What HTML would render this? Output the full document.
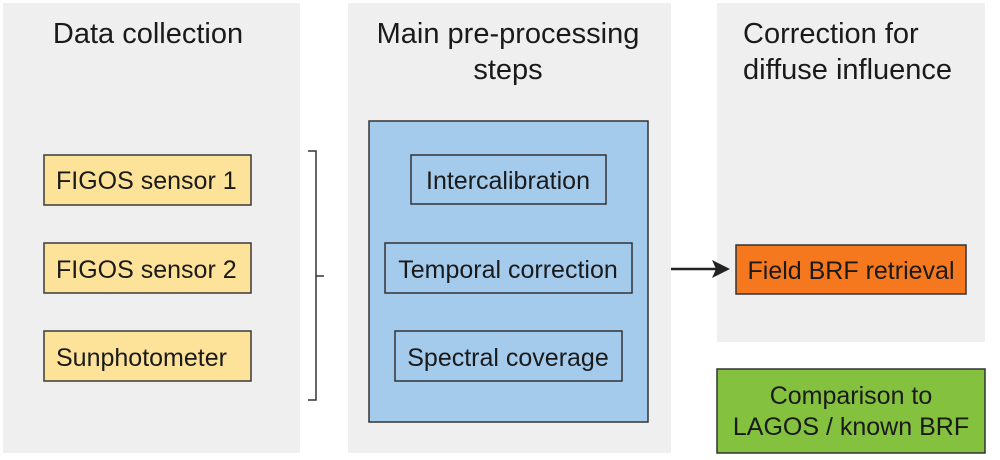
<!DOCTYPE html>
<html><head><meta charset="utf-8"><style>html,body{margin:0;padding:0;background:#fff}svg{display:block}</style></head>
<body>
<svg width="1000" height="460" viewBox="0 0 1000 460" xmlns="http://www.w3.org/2000/svg" font-family="Liberation Sans, Arial, sans-serif" fill="#1a1a1a">
<rect x="3" y="3" width="297" height="450" fill="#efefef"/>
<rect x="348" y="3" width="323" height="450" fill="#efefef"/>
<rect x="717" y="3" width="268" height="339" fill="#efefef"/>
<g font-size="29">
<text x="148" y="43" text-anchor="middle">Data collection</text>
<text x="508" y="43" text-anchor="middle">Main pre-processing</text>
<text x="508" y="79" text-anchor="middle">steps</text>
<text x="743" y="43">Correction for</text>
<text x="743" y="79">diffuse influence</text>
</g>
<g fill="#fde29a" stroke="#3a3a3a" stroke-width="1.5">
<rect x="44" y="155" width="207" height="50"/>
<rect x="44" y="243" width="207" height="50"/>
<rect x="44" y="331" width="207" height="50"/>
</g>
<g font-size="25">
<text x="56" y="189">FIGOS sensor 1</text>
<text x="56" y="278">FIGOS sensor 2</text>
<text x="56" y="366">Sunphotometer</text>
</g>
<path d="M308 151 H316 V400 H308 M316 276 H324" fill="none" stroke="#333" stroke-width="1.5"/>
<rect x="369" y="121" width="279" height="301" fill="#a4cbec" stroke="#333" stroke-width="1.5"/>
<g fill="none" stroke="#333" stroke-width="1.5">
<rect x="411" y="155" width="195" height="49"/>
<rect x="385" y="243" width="247" height="50"/>
<rect x="395" y="331" width="227" height="50"/>
</g>
<g font-size="25" text-anchor="middle">
<text x="508" y="189">Intercalibration</text>
<text x="508" y="278">Temporal correction</text>
<text x="508" y="366">Spectral coverage</text>
</g>
<path d="M671 269 H718" stroke="#222" stroke-width="2.5"/>
<path d="M730 269 L712 260 L716 269 L712 278 Z" fill="#222"/>
<rect x="736" y="245" width="230" height="49" fill="#f6781e" stroke="#333" stroke-width="1.5"/>
<text x="851" y="279" font-size="25" text-anchor="middle">Field BRF retrieval</text>
<rect x="717" y="369" width="268" height="84" fill="#83c13f" stroke="#333" stroke-width="1.5"/>
<g font-size="25" text-anchor="middle">
<text x="851" y="404">Comparison to</text>
<text x="851" y="435">LAGOS / known BRF</text>
</g>
</svg>
</body></html>
